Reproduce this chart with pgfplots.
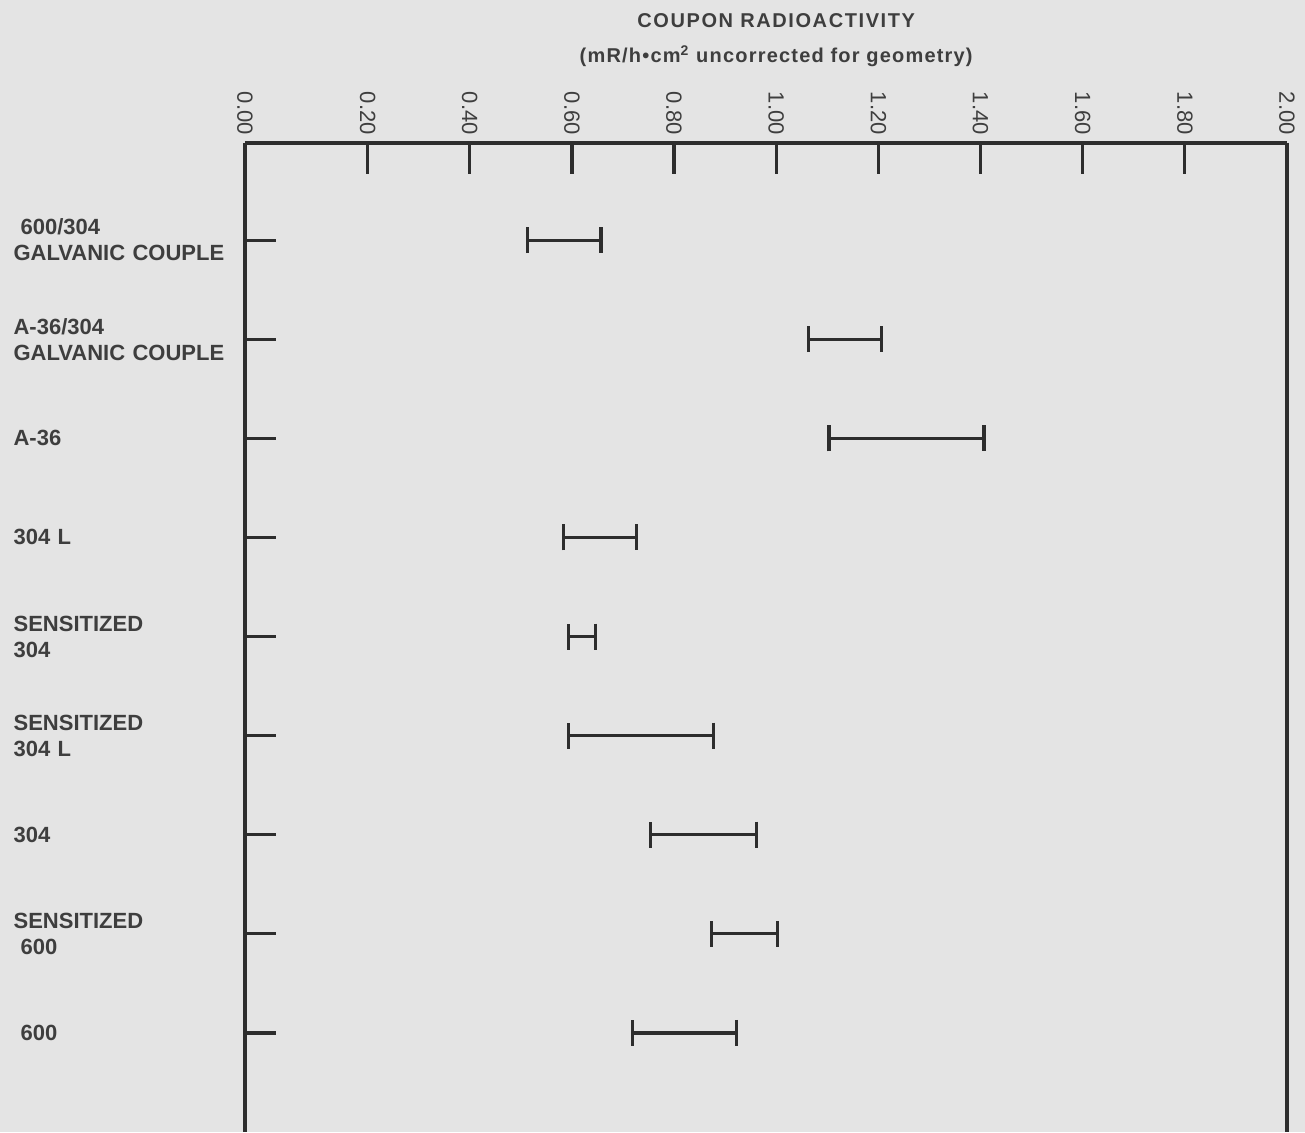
\documentclass[border=0pt]{standalone}
\usepackage{fontspec}
\setmainfont{Liberation Sans}
\usepackage{pgfplots}
\pgfplotsset{compat=1.18}
\usetikzlibrary{arrows.meta}
\definecolor{bg}{RGB}{228,228,228}
\definecolor{ink}{RGB}{45,45,45}
\definecolor{txt}{RGB}{62,62,62}
\begin{document}
\begin{tikzpicture}
\fill[bg] (-122.5pt,0) rectangle (530pt,566pt);
\begin{axis}[
  scale only axis, width=521pt, height=494.5pt,
  xmin=-0.04, xmax=2.0, ymin=0.02, ymax=10, y dir=reverse,
  clip=false,
  axis x line=top, axis y line=box,
  axis line style={-, ink, line width=1.6pt},
  xtick={-0.04,0.2,0.4,0.6,0.8,1.0,1.2,1.4,1.6,1.8,2.0},
  xticklabels={0.00,0.20,0.40,0.60,0.80,1.00,1.20,1.40,1.60,1.80,2.00},
  ytick={1,2,3,4,5,6,7,8,9},
  ytick pos=left,
  yticklabels={
    {\hspace*{3.5pt}600/304\\GALVANIC COUPLE},
    {A-36/304\\GALVANIC COUPLE},
    {A-36},
    {304 L},
    {SENSITIZED\\304},
    {SENSITIZED\\304 L},
    {304},
    {SENSITIZED\\\hspace*{3.5pt}600},
    {\hspace*{3.5pt}600}},
  tick align=inside, major tick length=15.5pt,
  tick style={ink, line width=1.6pt},
  xticklabel style={rotate=-90, anchor=east, inner sep=4pt, text=txt,
    font=\fontsize{11}{13}\selectfont},
  yticklabel style={anchor=east, align=left, text width=115.5pt, inner sep=0pt,
    text=txt, font=\bfseries\fontsize{11}{13}\selectfont},
]
\addplot[ink, line width=1.6pt, {Bar[width=13pt]}-{Bar[width=13pt]}] coordinates {(0.51,1) (0.66,1)};
\addplot[ink, line width=1.6pt, {Bar[width=13pt]}-{Bar[width=13pt]}] coordinates {(1.06,2) (1.21,2)};
\addplot[ink, line width=1.6pt, {Bar[width=13pt]}-{Bar[width=13pt]}] coordinates {(1.10,3) (1.41,3)};
\addplot[ink, line width=1.6pt, {Bar[width=13pt]}-{Bar[width=13pt]}] coordinates {(0.58,4) (0.73,4)};
\addplot[ink, line width=1.6pt, {Bar[width=13pt]}-{Bar[width=13pt]}] coordinates {(0.59,5) (0.65,5)};
\addplot[ink, line width=1.6pt, {Bar[width=13pt]}-{Bar[width=13pt]}] coordinates {(0.59,6) (0.88,6)};
\addplot[ink, line width=1.6pt, {Bar[width=13pt]}-{Bar[width=13pt]}] coordinates {(0.75,7) (0.965,7)};
\addplot[ink, line width=1.6pt, {Bar[width=13pt]}-{Bar[width=13pt]}] coordinates {(0.87,8) (1.005,8)};
\addplot[ink, line width=1.6pt, {Bar[width=13pt]}-{Bar[width=13pt]}] coordinates {(0.715,9) (0.925,9)};
\end{axis}
\node[anchor=base, text=txt, font=\bfseries\fontsize{10}{12}\selectfont\addfontfeature{LetterSpace=8}]
  at (265.6pt,552pt) {COUPON RADIOACTIVITY};
\node[anchor=base, text=txt, font=\bfseries\fontsize{10}{12}\selectfont\addfontfeature{LetterSpace=6}]
  at (265.6pt,534.5pt) {(mR/h\textbullet cm\textsuperscript{2} uncorrected for geometry)};
\pgfresetboundingbox
\useasboundingbox (-122.5pt,0) rectangle (530pt,566pt);
\end{tikzpicture}
\end{document}
